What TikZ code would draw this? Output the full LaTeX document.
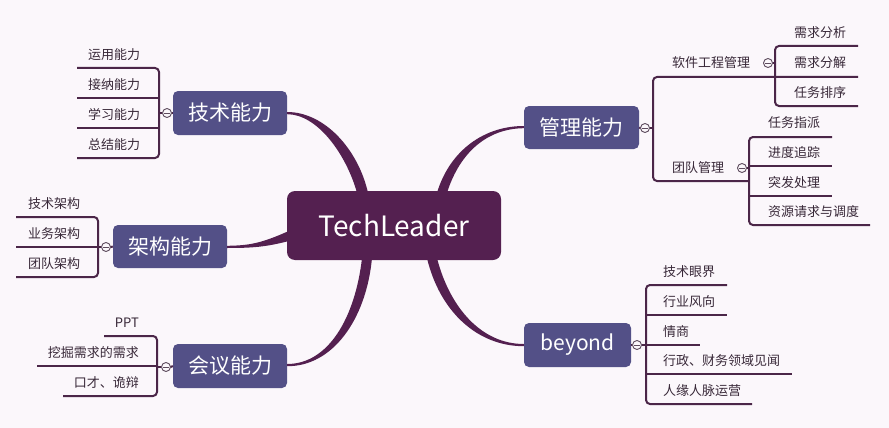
\documentclass[tikz,border=0pt]{standalone}
\usepackage{fontspec}
\setmainfont{Noto Sans CJK SC}
\usetikzlibrary{calc}
\definecolor{bgc}{HTML}{FBF7FB}
\definecolor{centerc}{HTML}{542050}
\definecolor{mainc}{HTML}{535087}
\definecolor{linec}{HTML}{4B2648}
\definecolor{leafc}{HTML}{382838}
\definecolor{foldc}{HTML}{5E4C5E}
\tikzset{
  centerbox/.style={fill=centerc, rounded corners=8pt, minimum width=214pt, minimum height=69pt, inner sep=0pt, text=white, font=\fontsize{28}{28}\selectfont},
  mainbox/.style={fill=mainc, rounded corners=5pt, minimum width=114pt, minimum height=44pt, inner sep=0pt, text=white, font=\fontsize{21}{21}\selectfont},
  leaf/.style={text=leafc, font=\fontsize{13}{13}\selectfont, inner sep=0pt},
  fold/.style={circle, draw=foldc, fill=bgc, line width=0.9pt, minimum size=9pt, inner sep=0pt,
    path picture={\draw[foldc, line width=0.8pt] ([xshift=-2.6pt]path picture bounding box.center) -- ([xshift=2.6pt]path picture bounding box.center);}},
  link/.style={draw=linec, line width=2pt, rounded corners=4pt},
  curve/.style={fill=centerc}
}
\begin{document}
\begin{tikzpicture}[x=1pt,y=-1pt]
\fill[bgc] (0,0) rectangle (889,428);
\useasboundingbox (0,0) rectangle (889,428);

% nodes
\node[centerbox] (c) at (394,225.5) {TechLeader};
\node[mainbox] (js) at (230,113) {技术能力};
\node[mainbox, minimum height=43pt] (jg) at (170,246.5) {架构能力};
\node[mainbox] (hy) at (230,366) {会议能力};
\node[mainbox, minimum width=115pt, minimum height=43pt] (gl) at (581.5,127.5) {管理能力};
\node[mainbox, minimum width=107pt] (by) at (577.5,345) {beyond};

% tapered curves
\fill[curve] ($(c.north)+(-26,2)$) .. controls ($(c.north)+(-36,-42)$) and ($(js.east)+(37,-1)$) .. ($(js.east)+(0,-1)$)
  -- ($(js.east)+(0,1.2)$) .. controls ($(js.east)+(30,1.2)$) and ($(c.north)+(-48,-37)$) .. ($(c.north)+(-37,2)$) -- cycle;
\fill[curve] ($(c.north)+(43,2)$) .. controls ($(c.north)+(56,-41)$) and ($(gl.west)+(-39,-1.5)$) .. ($(gl.west)+(0,-1.5)$)
  -- ($(gl.west)+(0,0.7)$) .. controls ($(gl.west)+(-36,1)$) and ($(c.north)+(66,-39)$) .. ($(c.north)+(53,2)$) -- cycle;
\fill[curve] ($(c.south)+(-32,-2)$) .. controls ($(c.south)+(-39,58)$) and ($(hy.east)+(41,-2)$) .. ($(hy.east)+(0,-2)$)
  -- ($(hy.east)+(0,0.2)$) .. controls ($(hy.east)+(45,0.5)$) and ($(c.south)+(-28,60)$) .. ($(c.south)+(-22,-2)$) -- cycle;
\fill[curve] ($(c.south)+(33,-2)$) .. controls ($(c.south)+(46,52)$) and ($(by.west)+(-46,1.2)$) .. ($(by.west)+(0,1.2)$)
  -- ($(by.west)+(0,-1)$) .. controls ($(by.west)+(-42,-1)$) and ($(c.south)+(56,48)$) .. ($(c.south)+(43,-2)$) -- cycle;
\fill[curve] ($(c.west)+(2,5.5)$) .. controls ($(c.west)+(-25,17.5)$) and ($(jg.east)+(23,-1)$) .. ($(jg.east)+(0,-0.7)$)
  -- ($(jg.east)+(0,1.5)$) .. controls ($(jg.east)+(25,1.5)$) and ($(c.west)+(-21,21.5)$) .. ($(c.west)+(2,15.5)$) -- cycle;

% ---------- 技术能力 ----------
\node[fold] (jsf) at (167,113) {};
\draw[link] (js.west) -- (jsf.east);
\draw[link] (jsf.west) -- (159,113);
\draw[link] (77,68) -- (159,68) -- (159,158) -- (77,158);
\draw[link] (77,98) -- (159,98);
\draw[link] (77,128) -- (159,128);
\node[leaf, anchor=west] (js1) at (88,55) {运用能力};
\node[leaf, anchor=west] (js2) at (88,85) {接纳能力};
\node[leaf, anchor=west] (js3) at (88,115) {学习能力};
\node[leaf, anchor=west] (js4) at (88,145) {总结能力};

% ---------- 架构能力 ----------
\node[fold] (jgf) at (106,247) {};
\draw[link] (jg.west) -- (jgf.east);
\draw[link] (jgf.west) -- (98,247);
\draw[link] (16,217) -- (98,217) -- (98,277) -- (16,277);
\draw[link] (16,247) -- (98,247);
\node[leaf, anchor=west] (jg1) at (28,204) {技术架构};
\node[leaf, anchor=west] (jg2) at (28,234) {业务架构};
\node[leaf, anchor=west] (jg3) at (28,264) {团队架构};

% ---------- 会议能力 ----------
\node[fold] (hyf) at (166,367) {};
\draw[link] (hy.west) -- (hyf.east);
\draw[link] (hyf.west) -- (157,367);
\draw[link] (104,336) -- (157,336) -- (157,396) -- (63,396);
\draw[link] (37,366) -- (157,366);
\node[leaf, anchor=east] (hy1) at (139,323) {PPT};
\node[leaf, anchor=east] (hy2) at (139,353) {挖掘需求的需求};
\node[leaf, anchor=east] (hy3) at (139,383) {口才、诡辩};

% ---------- 管理能力 ----------
\node[fold] (glf) at (645,128) {};
\draw[link] (gl.east) -- (glf.west);
\draw[link] (glf.east) -- (653,128);
\draw[link] (858,77) -- (653,77) -- (653,181) -- (749,181);
\node[leaf, anchor=west] (rj) at (672,63) {软件工程管理};
\node[leaf, anchor=west] (td) at (672,168) {团队管理};
% 软件工程管理
\node[fold] (rjf) at (768,63) {};
\draw[link] (rjf.east) -- (775,63);
\draw[link] (858,46) -- (775,46) -- (775,106) -- (858,106);
\node[leaf, anchor=west] (rj1) at (794,33) {需求分析};
\node[leaf, anchor=west] (rj2) at (794,63) {需求分解};
\node[leaf, anchor=west] (rj3) at (794,93) {任务排序};
% 团队管理
\node[fold] (tdf) at (742,168) {};
\draw[link] (tdf.east) -- (749,168);
\draw[link] (832,137) -- (749,137) -- (749,225) -- (870,225);
\draw[link] (749,166) -- (832,166);
\draw[link] (749,196) -- (832,196);
\node[leaf, anchor=west] (td1) at (768,123) {任务指派};
\node[leaf, anchor=west] (td2) at (768,153) {进度追踪};
\node[leaf, anchor=west] (td3) at (768,183) {突发处理};
\node[leaf, anchor=west] (td4) at (768,212) {资源请求与调度};

% ---------- beyond ----------
\node[fold] (byf) at (637,345) {};
\draw[link] (by.east) -- (byf.west);
\draw[link] (727,285) -- (646,285) -- (646,404) -- (752,404);
\draw[link] (646,315) -- (727,315);
\draw[link] (byf.east) -- (700,345);
\draw[link] (646,374) -- (792,374);
\node[leaf, anchor=west] (by1) at (663,272) {技术眼界};
\node[leaf, anchor=west] (by2) at (663,302) {行业风向};
\node[leaf, anchor=west] (by3) at (663,332) {情商};
\node[leaf, anchor=west] (by4) at (663,361) {行政、财务领域见闻};
\node[leaf, anchor=west] (by5) at (663,391) {人缘人脉运营};
\end{tikzpicture}
\end{document}
